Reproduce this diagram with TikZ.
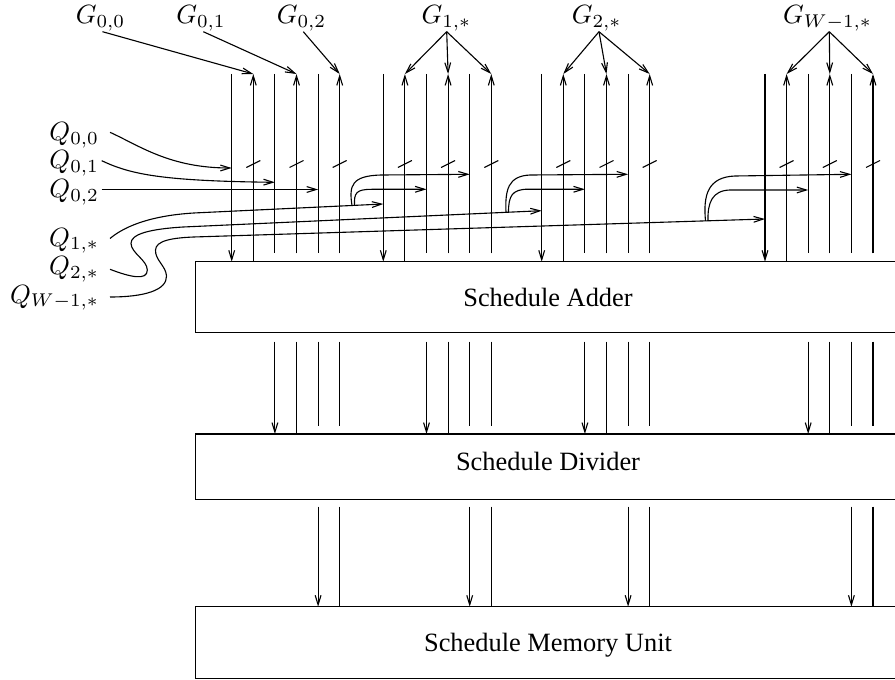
\documentclass[tikz,border=0pt]{standalone}
\usepackage{fontspec}
\newfontfamily\timesfont{Liberation Serif}
\usetikzlibrary{arrows.meta}
\tikzset{
  lbl/.style={inner sep=0pt, outer sep=0pt, anchor=base},
  qlbl/.style={inner sep=0pt, outer sep=0pt, anchor=base east},
  blockbox/.style={draw, inner sep=0pt, outer sep=0pt, anchor=north west, minimum width=704.3*0.3788pt},
  boxtext/.style={font=\timesfont, anchor=base, inner sep=0pt},
  arr/.style={->},
  busmark/.style={}
}
\begin{document}
\begin{tikzpicture}[x=0.3788pt,y=-0.3788pt, line width=0.42pt,
  >={Straight Barb[length=3.6pt,width=2.2pt]}]
\useasboundingbox (0,0) rectangle (895,680);

% blocks
\node[blockbox, minimum height=71*0.3788pt] (adder) at (195.7,261.7) {};
\node[blockbox, minimum height=65.3*0.3788pt] (divider) at (195.7,434) {};
\node[blockbox, minimum height=71.6*0.3788pt] (memory) at (195.7,606.7) {};
\node[boxtext] (addertext) at (548,306.7) {Schedule Adder};
\node[boxtext] (dividertext) at (548,470.5) {Schedule Divider};
\node[boxtext] (memorytext) at (548,651.7) {Schedule Memory Unit};

% vertical wires
\foreach \g/\gx in {0/231.7,1/383.3,2/541.7,3/765} {
  \foreach \i in {0,...,5} {
    \coordinate (T\g\i) at ({\gx+\i*21.6},74);
    \coordinate (S\g\i) at ({\gx+\i*21.6},253.3);
    \coordinate (A\g\i) at ({\gx+\i*21.6},261.7);
    \coordinate (M\g\i) at ({\gx+\i*21.6},341.7);
    \coordinate (N\g\i) at ({\gx+\i*21.6},425.7);
    \coordinate (D\g\i) at ({\gx+\i*21.6},434);
    \coordinate (L\g\i) at ({\gx+\i*21.6},506.7);
    \coordinate (U\g\i) at ({\gx+\i*21.6},606.7);
  }
  \draw[arr] (T\g0) -- (A\g0);
  \draw[arr] (A\g1) -- (T\g1);
  \draw (T\g2) -- (S\g2);
  \draw[arr] (S\g3) -- (T\g3);
  \draw (T\g4) -- (S\g4);
  \draw[arr] (S\g5) -- (T\g5);
  \foreach \i in {1,3,5}
    \draw[busmark] ({\gx+\i*21.6-7},167.5) -- ++(14,-7);
  \draw[arr] (M\g2) -- (D\g2);
  \draw (M\g3) -- (D\g3);
  \draw (M\g4) -- (N\g4);
  \draw (M\g5) -- (N\g5);
  \draw[arr] (L\g4) -- (U\g4);
  \draw (L\g5) -- (U\g5);
}

% G labels and arrows
\node[lbl] (G00) at (100.5,23.3) {$G_{0,0}$};
\node[lbl] (G01) at (201,23.3) {$G_{0,1}$};
\node[lbl] (G02) at (301.5,23.3) {$G_{0,2}$};
\node[lbl] (G1) at (446.5,23.3) {$G_{1,*}$};
\node[lbl] (G2) at (596.7,23.3) {$G_{2,*}$};
\node[lbl] (GW) at (827.5,23.3) {$G_{W-1,*}$};
\coordinate (g00s) at (102.5,31.7);
\coordinate (g01s) at (203.3,31.7);
\coordinate (g02s) at (303.3,31.7);
\coordinate (g1s) at (446.7,31.7);
\coordinate (g2s) at (599,31.7);
\coordinate (gWs) at (829.3,31.7);
\draw[arr] (g00s) -- (T01);
\draw[arr] (g01s) -- (T03);
\draw[arr] (g02s) -- (T05);
\foreach \i in {1,3,5} {
  \draw[arr] (g1s) -- (T1\i);
  \draw[arr] (g2s) -- (T2\i);
  \draw[arr] (gWs) -- (T3\i);
}

% Q labels
\node[qlbl] (Q00) at (99,140.5) {$Q_{0,0}$};
\node[qlbl] (Q01) at (99,169) {$Q_{0,1}$};
\node[qlbl] (Q02) at (99,197.3) {$Q_{0,2}$};
\node[qlbl] (Q1) at (99,246) {$Q_{1,*}$};
\node[qlbl] (Q2) at (99,274.5) {$Q_{2,*}$};
\node[qlbl] (QW) at (99,303) {$Q_{W-1,*}$};

% Q inputs of group 0
\coordinate (q00s) at (110,132.3);
\coordinate (q00e) at (231.7,168);
\coordinate (q01s) at (101.7,160.7);
\coordinate (q01e) at (274.9,182.3);
\coordinate (q02s) at (101.7,189.5);
\coordinate (q02e) at (318.1,189.5);
\draw[arr] (q00s) .. controls (140,146) and (170,168) .. (q00e);
\draw[arr] (q01s) .. controls (130,174) and (160,181) .. (q01e);
\draw[arr] (q02s) -- (q02e);

% Q_{1,*}
\coordinate (q1s) at (110,238.5);
\coordinate (q1e) at (383.3,204);
\draw[arr] (q1s) .. controls (126,225) and (155,214.5) .. (200,212.7) -- (q1e);
\coordinate (b1o) at (352,205.5);
\coordinate (b1i) at (354.5,205.4);
\coordinate (q1e4) at (469.7,174.3);
\coordinate (q1e2) at (426.5,189.3);
\draw[arr] (b1o) .. controls (349,186) and (351,175.5) .. (382,175) -- (q1e4);
\draw[arr] (b1i) .. controls (354,193) and (356,189.3) .. (372,189.3) -- (q1e2);

% Q_{2,*}
\coordinate (q2s) at (110,269.3);
\coordinate (q2e) at (541.7,210.7);
\draw[arr] (q2s) .. controls (130,277) and (147.5,281) .. (147.3,270)
  .. controls (147.2,260) and (131,253) .. (131,243.3)
  .. controls (131,234) and (150,229) .. (183.3,227) -- (q2e);
\coordinate (b2o) at (506,212.3);
\coordinate (b2i) at (508.5,212.2);
\coordinate (q2e4) at (628.1,174.3);
\coordinate (q2e2) at (584.9,189.3);
\draw[arr] (b2o) .. controls (505,190) and (508,176) .. (530,175) -- (q2e4);
\draw[arr] (b2i) .. controls (508.5,196) and (512,189.3) .. (528,189.2) -- (q2e2);

% Q_{W-1,*}
\coordinate (qWs) at (110,297);
\coordinate (qWe) at (765,219);
\draw[arr] (qWs) .. controls (145,297) and (167,290) .. (166.5,276)
  .. controls (166,266) and (155,260) .. (155.5,250)
  .. controls (156,241) and (170,237.5) .. (200,236.8) -- (qWe);
\coordinate (bWo) at (705.5,220.9);
\coordinate (bWi) at (708,220.8);
\coordinate (qWe4) at (851.4,174.3);
\coordinate (qWe2) at (808.2,190);
\draw[arr] (bWo) .. controls (703,195) and (708,177) .. (735,176) -- (qWe4);
\draw[arr] (bWi) .. controls (707.5,203) and (712,190.5) .. (730,190) -- (qWe2);
\end{tikzpicture}
\end{document}
